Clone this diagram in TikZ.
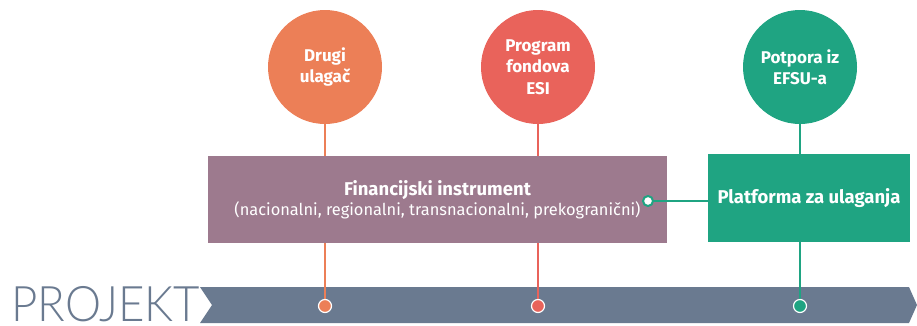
\documentclass[tikz,border=0pt]{standalone}
\usepackage{fontspec}
\setmainfont{Fira Sans}
\newfontfamily\thinfont{Lato Light}
\usetikzlibrary{positioning}
\usetikzlibrary{backgrounds}
\definecolor{orangec}{HTML}{EC7F57}
\definecolor{redc}{HTML}{E9635B}
\definecolor{greenc}{HTML}{1FA482}
\definecolor{mauve}{HTML}{9D7A8E}
\definecolor{slate}{HTML}{6A7A90}
\tikzset{
disc/.style={
  circle,
  inner sep=0pt,
  minimum size=114pt,
  align=center,
  text=white,
  font=\bfseries\fontsize{17}{21.5}\selectfont
  },
box/.style={
  rectangle,
  inner sep=0pt,
  align=center,
  text=white,
  font=\fontsize{16.4}{20}\selectfont
  },
dot/.style={
  circle,
  inner sep=0pt,
  minimum size=13pt,
  draw=white,
  line width=1.2pt
  },
pin/.style={line width=2pt}
}

\begin{document}
\begin{tikzpicture}[x=1pt,y=-1pt]
    \useasboundingbox (0,0) rectangle (917,325);
    \node[disc,fill=orangec] (drugi) at (325,67) {Drugi\\ulagač};
    \node[disc,fill=redc]    (esi)   at (538,67) {Program\\fondova\\ESI};
    \node[disc,fill=greenc]  (efsu)  at (800,67) {Potpora iz\\EFSU-a};
    \node[box,fill=mauve,minimum width=459pt,minimum height=87pt] (fin) at (437.5,199.5)
        {{\bfseries\fontsize{18.5}{20}\selectfont Financijski instrument}\\(nacionalni, regionalni, transnacionalni, prekogranični)};
    \node[box,fill=greenc,minimum width=202pt,minimum height=88pt,font=\bfseries\fontsize{18.5}{20}\selectfont] (plat) at (809,198)
        {Platforma za ulaganja};
    \node[dot,fill=orangec] (d1) at (325,306) {};
    \node[dot,fill=redc]    (d2) at (538,306) {};
    \node[dot,fill=greenc]  (d3) at (800,306) {};
    \node[dot,fill=white,draw=greenc,line width=2pt,minimum size=10pt] (jn) at (648,201) {};
    \node[text=slate,font=\thinfont\fontsize{49}{49}\selectfont,anchor=base west,inner sep=0pt,xscale=0.93,transform shape] (proj) at (11,321.5) {PROJEKT};
    \begin{scope}[on background layer]
    \fill[slate] (200,287) -- (909,287) -- (917,305) -- (909,323) -- (200,323) -- (212,305) -- cycle;
    \draw[pin,orangec] (drugi) -- (d1);
    \draw[pin,redc]    (esi)   -- (d2);
    \draw[pin,greenc]  (efsu)  -- (d3);
    \end{scope}
    \draw[pin,greenc] (jn) -- (jn -| plat.west);
\end{tikzpicture}
\end{document}
